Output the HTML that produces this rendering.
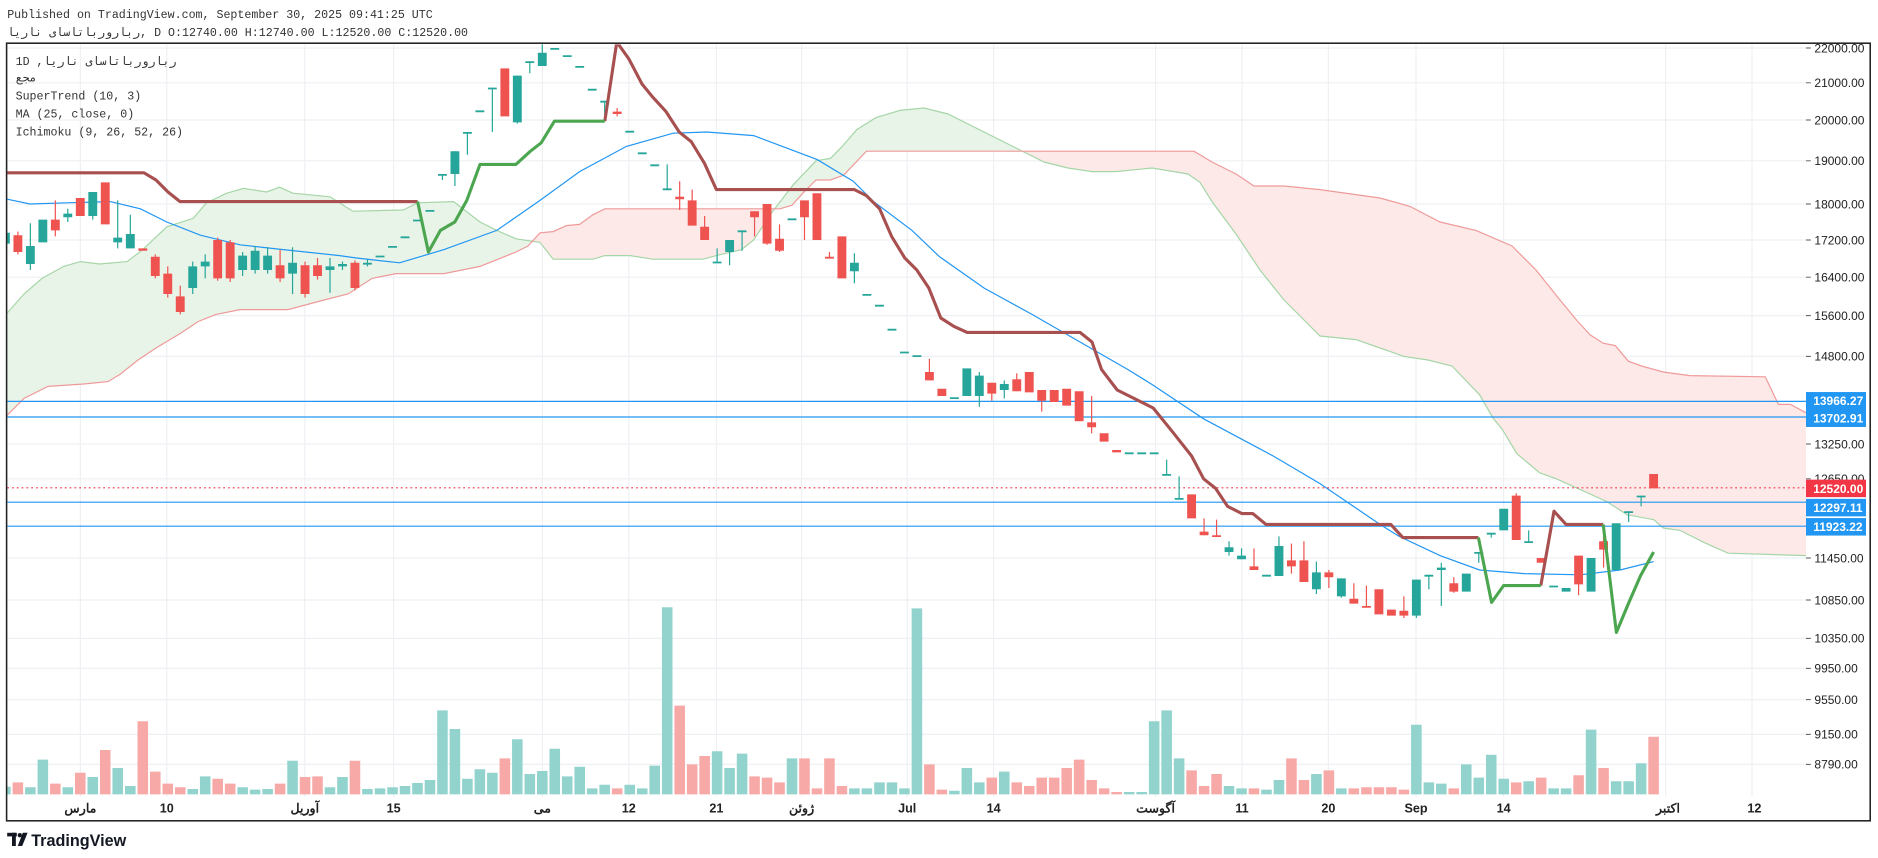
<!DOCTYPE html>
<html><head><meta charset="utf-8">
<style>
html,body{margin:0;padding:0;background:#fff;}
svg{display:block;}
.mono{font-family:"Liberation Mono","DejaVu Sans Mono","Noto Sans CJK JP",monospace;}
.sans{font-family:"Liberation Sans","Noto Sans CJK JP",sans-serif;}
</style></head>
<body>
<svg width="1878" height="858" viewBox="0 0 1565 715" preserveAspectRatio="none" xmlns="http://www.w3.org/2000/svg">
<defs>
<clipPath id="cc"><rect x="6" y="37" width="1499" height="646"/></clipPath>
<clipPath id="aboveB"><polygon points="0,0 5,347 20,332 40,322 70,320 90,318 100,312 115,300 130,290 150,278 165,268 180,262 200,258 240,258 270,250 290,245 310,232 330,228 370,228 400,222 430,210 440,205 450,194 461,193 472,188 483,187 494,179 504,174 650,174 660,171 669,161 680,150 692,150 703,146 722,126 995,126 1010,135 1030,145 1045,155 1070,155 1100,158 1150,165 1175,172 1200,185 1230,192 1260,205 1280,225 1300,250 1314,267 1325,279 1336,286 1346,288 1357,301 1368,305 1386,310 1408,313 1471,314 1482,337 1492,337 1505,344 1565,344 1565,0"/></clipPath>
<clipPath id="belowB"><polygon points="0,715 0,347 5,347 20,332 40,322 70,320 90,318 100,312 115,300 130,290 150,278 165,268 180,262 200,258 240,258 270,250 290,245 310,232 330,228 370,228 400,222 430,210 440,205 450,194 461,193 472,188 483,187 494,179 504,174 650,174 660,171 669,161 680,150 692,150 703,146 722,126 995,126 1010,135 1030,145 1045,155 1070,155 1100,158 1150,165 1175,172 1200,185 1230,192 1260,205 1280,225 1300,250 1314,267 1325,279 1336,286 1346,288 1357,301 1368,305 1386,310 1408,313 1471,314 1482,337 1492,337 1505,344 1565,344 1565,715"/></clipPath>
</defs>
<rect x="0" y="0" width="1565" height="715" fill="#fff"/>
<!-- grid -->
<path stroke="#eef0f3" stroke-width="1" fill="none" d="M6 40H1505M6 69H1505M6 100H1505M6 134H1505M6 170H1505M6 200H1505M6 231H1505M6 263H1505M6 297H1505M6 370H1505M6 399H1505M6 465H1505M6 500H1505M6 532H1505M6 557H1505M6 583H1505M6 612H1505M6 637H1505
M67 37V664M139 37V664M254 37V664M328 37V664M452 37V664M524 37V664M597 37V664M668 37V664M756 37V664M828 37V664M963 37V664M1035 37V664M1107 37V664M1180 37V664M1253 37V664M1388 37V664M1460 37V664"/>
<g clip-path="url(#cc)">
<!-- cloud -->
<g id="cl">
<polygon clip-path="url(#aboveB)" fill="#e9f4e9" points="5,262 20,245 35,232 53,222 67,218 83,220 106,218 119,208 139,189 161,182 172,169 189,161 203,157 222,160 233,156 244,161 275,164 294,176 336,175 348,169 378,168 400,185 414,192 430,199 450,202 461,216 494,216 504,213 525,213 544,216 586,216 597,213 618,208 628,200 644,176 661,154 680,134 692,132 701,123 714,108 730,98 750,92 770,90 790,95 810,105 830,115 850,125 870,135 890,140 910,143 930,143 960,140 990,145 1000,152 1010,168 1030,195 1050,225 1070,250 1090,270 1100,280 1130,283 1150,290 1170,297 1190,300 1210,305 1233,329 1244,348 1252,358 1264,378 1283,394 1297,399 1339,418 1356,429 1378,433 1386,440 1400,442 1420,452 1440,461 1505,463 1505,344 1492,337 1482,337 1471,314 1408,313 1386,310 1368,305 1357,301 1346,288 1336,286 1325,279 1314,267 1300,250 1280,225 1260,205 1230,192 1200,185 1175,172 1150,165 1100,158 1070,155 1045,155 1030,145 1010,135 995,126 722,126 703,146 692,150 680,150 669,161 660,171 650,174 504,174 494,179 483,187 472,188 461,193 450,194 440,205 430,210 400,222 370,228 330,228 310,232 290,245 270,250 240,258 200,258 180,262 165,268 150,278 130,290 115,300 100,312 90,318 70,320 40,322 20,332 5,347"/>
<polygon clip-path="url(#belowB)" fill="#fde9e8" points="5,262 20,245 35,232 53,222 67,218 83,220 106,218 119,208 139,189 161,182 172,169 189,161 203,157 222,160 233,156 244,161 275,164 294,176 336,175 348,169 378,168 400,185 414,192 430,199 450,202 461,216 494,216 504,213 525,213 544,216 586,216 597,213 618,208 628,200 644,176 661,154 680,134 692,132 701,123 714,108 730,98 750,92 770,90 790,95 810,105 830,115 850,125 870,135 890,140 910,143 930,143 960,140 990,145 1000,152 1010,168 1030,195 1050,225 1070,250 1090,270 1100,280 1130,283 1150,290 1170,297 1190,300 1210,305 1233,329 1244,348 1252,358 1264,378 1283,394 1297,399 1339,418 1356,429 1378,433 1386,440 1400,442 1420,452 1440,461 1505,463 1505,344 1492,337 1482,337 1471,314 1408,313 1386,310 1368,305 1357,301 1346,288 1336,286 1325,279 1314,267 1300,250 1280,225 1260,205 1230,192 1200,185 1175,172 1150,165 1100,158 1070,155 1045,155 1030,145 1010,135 995,126 722,126 703,146 692,150 680,150 669,161 660,171 650,174 504,174 494,179 483,187 472,188 461,193 450,194 440,205 430,210 400,222 370,228 330,228 310,232 290,245 270,250 240,258 200,258 180,262 165,268 150,278 130,290 115,300 100,312 90,318 70,320 40,322 20,332 5,347"/>
<polyline fill="none" stroke="#a5d6a7" stroke-width="1" points="5,262 20,245 35,232 53,222 67,218 83,220 106,218 119,208 139,189 161,182 172,169 189,161 203,157 222,160 233,156 244,161 275,164 294,176 336,175 348,169 378,168 400,185 414,192 430,199 450,202 461,216 494,216 504,213 525,213 544,216 586,216 597,213 618,208 628,200 644,176 661,154 680,134 692,132 701,123 714,108 730,98 750,92 770,90 790,95 810,105 830,115 850,125 870,135 890,140 910,143 930,143 960,140 990,145 1000,152 1010,168 1030,195 1050,225 1070,250 1090,270 1100,280 1130,283 1150,290 1170,297 1190,300 1210,305 1233,329 1244,348 1252,358 1264,378 1283,394 1297,399 1339,418 1356,429 1378,433 1386,440 1400,442 1420,452 1440,461 1505,463"/>
<polyline fill="none" stroke="#ef9a9a" stroke-width="1" points="5,347 20,332 40,322 70,320 90,318 100,312 115,300 130,290 150,278 165,268 180,262 200,258 240,258 270,250 290,245 310,232 330,228 370,228 400,222 430,210 440,205 450,194 461,193 472,188 483,187 494,179 504,174 650,174 660,171 669,161 680,150 692,150 703,146 722,126 995,126 1010,135 1030,145 1045,155 1070,155 1100,158 1150,165 1175,172 1200,185 1230,192 1260,205 1280,225 1300,250 1314,267 1325,279 1336,286 1346,288 1357,301 1368,305 1386,310 1408,313 1471,314 1482,337 1492,337 1505,344"/>
</g>
<!-- volume -->
<path fill="#92d3cd" d="M0.1 655.6h8.8V662h-8.8zM20.9 656h8.8V662h-8.8zM31.3 633h8.8V662h-8.8zM52.1 656h8.8V662h-8.8zM72.9 647.5h8.8V662h-8.8zM93.7 640h8.8V662h-8.8zM104.2 655h8.8V662h-8.8zM156.2 657.5h8.8V662h-8.8zM166.6 647h8.8V662h-8.8zM197.8 656h8.8V662h-8.8zM208.2 658h8.8V662h-8.8zM218.6 657.5h8.8V662h-8.8zM239.4 634h8.8V662h-8.8zM270.6 656h8.8V662h-8.8zM281 647.5h8.8V662h-8.8zM301.8 657.5h8.8V662h-8.8zM312.3 657h8.8V662h-8.8zM322.7 656h8.8V662h-8.8zM333.1 655h8.8V662h-8.8zM343.5 652.5h8.8V662h-8.8zM353.9 650h8.8V662h-8.8zM364.3 592h8.8V662h-8.8zM374.7 607.5h8.8V662h-8.8zM385.1 649h8.8V662h-8.8zM395.5 641h8.8V662h-8.8zM405.9 644h8.8V662h-8.8zM426.7 616h8.8V662h-8.8zM437.1 645h8.8V662h-8.8zM447.5 642.5h8.8V662h-8.8zM457.9 624h8.8V662h-8.8zM468.3 647h8.8V662h-8.8zM478.7 639h8.8V662h-8.8zM489.1 657h8.8V662h-8.8zM499.5 654h8.8V662h-8.8zM520.4 654h8.8V662h-8.8zM530.8 657h8.8V662h-8.8zM541.2 638h8.8V662h-8.8zM551.6 506h8.8V662h-8.8zM593.2 626h8.8V662h-8.8zM603.6 640h8.8V662h-8.8zM614 628h8.8V662h-8.8zM655.6 632h8.8V662h-8.8zM707.6 657h8.8V662h-8.8zM718 657h8.8V662h-8.8zM728.5 652h8.8V662h-8.8zM738.9 652h8.8V662h-8.8zM749.3 657h8.8V662h-8.8zM759.7 507h8.8V662h-8.8zM790.9 659h8.8V662h-8.8zM801.3 640h8.8V662h-8.8zM811.7 652h8.8V662h-8.8zM832.5 643h8.8V662h-8.8zM936.6 660h8.8V662h-8.8zM947 660h8.8V662h-8.8zM957.4 601h8.8V662h-8.8zM967.8 592h8.8V662h-8.8zM978.2 632h8.8V662h-8.8zM1019.8 655h8.8V662h-8.8zM1030.2 657h8.8V662h-8.8zM1051 658h8.8V662h-8.8zM1061.4 650h8.8V662h-8.8zM1092.6 645h8.8V662h-8.8zM1113.4 657h8.8V662h-8.8zM1175.9 604h8.8V662h-8.8zM1186.3 652h8.8V662h-8.8zM1196.7 653h8.8V662h-8.8zM1217.5 637h8.8V662h-8.8zM1227.9 648h8.8V662h-8.8zM1238.3 629h8.8V662h-8.8zM1248.7 649h8.8V662h-8.8zM1269.5 651h8.8V662h-8.8zM1290.3 657h8.8V662h-8.8zM1300.7 657h8.8V662h-8.8zM1321.5 608h8.8V662h-8.8zM1342.4 651h8.8V662h-8.8zM1352.8 651h8.8V662h-8.8zM1363.2 636h8.8V662h-8.8z"/>
<path fill="#f7a9a7" d="M10.5 652h8.8V662h-8.8zM41.7 653h8.8V662h-8.8zM62.5 644h8.8V662h-8.8zM83.3 625h8.8V662h-8.8zM114.6 601h8.8V662h-8.8zM125 643h8.8V662h-8.8zM135.4 653h8.8V662h-8.8zM145.8 656h8.8V662h-8.8zM177 649h8.8V662h-8.8zM187.4 653h8.8V662h-8.8zM229 653h8.8V662h-8.8zM249.8 647.5h8.8V662h-8.8zM260.2 647h8.8V662h-8.8zM291.4 634h8.8V662h-8.8zM416.3 632h8.8V662h-8.8zM509.9 657h8.8V662h-8.8zM562 588h8.8V662h-8.8zM572.4 637h8.8V662h-8.8zM582.8 630h8.8V662h-8.8zM624.4 647h8.8V662h-8.8zM634.8 648h8.8V662h-8.8zM645.2 652h8.8V662h-8.8zM666 632h8.8V662h-8.8zM676.4 657h8.8V662h-8.8zM686.8 632h8.8V662h-8.8zM697.2 655h8.8V662h-8.8zM770.1 637h8.8V662h-8.8zM780.5 658h8.8V662h-8.8zM822.1 648h8.8V662h-8.8zM842.9 652h8.8V662h-8.8zM853.3 655h8.8V662h-8.8zM863.7 648h8.8V662h-8.8zM874.1 648h8.8V662h-8.8zM884.5 640h8.8V662h-8.8zM894.9 633h8.8V662h-8.8zM905.3 650h8.8V662h-8.8zM915.7 657h8.8V662h-8.8zM926.1 660h8.8V662h-8.8zM988.6 642h8.8V662h-8.8zM999 655h8.8V662h-8.8zM1009.4 645h8.8V662h-8.8zM1040.6 657h8.8V662h-8.8zM1071.8 632h8.8V662h-8.8zM1082.2 650h8.8V662h-8.8zM1103 642h8.8V662h-8.8zM1123.8 657h8.8V662h-8.8zM1134.3 656h8.8V662h-8.8zM1144.7 656h8.8V662h-8.8zM1155.1 656h8.8V662h-8.8zM1165.5 658h8.8V662h-8.8zM1207.1 657h8.8V662h-8.8zM1259.1 652h8.8V662h-8.8zM1279.9 648h8.8V662h-8.8zM1311.1 646h8.8V662h-8.8zM1331.9 640h8.8V662h-8.8zM1373.6 614h8.8V662h-8.8z"/>
<!-- MA -->
<polyline fill="none" stroke="#2196f3" stroke-width="1" points="6,166 25,170 56,169 92,168 117,174 139,185 167,196 200,204 236,208 283,213 297,215 333,219 370,208 414,192 450,167 483,143 522,122 561,111 589,110 628,113 681,133 711,151 728,168 760,192 783,214 820,240 860,262 900,285 940,308 961,321 1003,349 1061,380 1100,403 1150,437 1166,447 1200,463 1233,475 1270,478 1317,479 1350,475 1378,468"/>
<!-- levels -->
<path stroke="#2196f3" stroke-width="1" d="M6 334.5H1505M6 347.5H1505M6 418.5H1505M6 438.5H1505"/>
<path stroke="#f23645" stroke-width="1" stroke-dasharray="1.5,2.5" d="M6 406.5H1505"/>
<!-- wicks -->
<path stroke="#26a69a" stroke-width="1" fill="none" d="M4.5 192V205M25.3 186V225M56.5 174V185M77.3 160V183M98.1 167V207M108.6 179V207M160.6 218V245M171 212V232M202.2 210V230M212.6 205V228M223 206V228M243.8 206V245M275 215V244M285.4 218V225M306.2 216V222M368.7 145V150M379.1 126V155M389.5 110V129M410.3 73V110M431.1 63V103M441.5 51V61M451.9 36V55M503.9 84V96M556 137V158M597.6 207V219M608 200V221M618.4 192V209M712 211V236M816.1 310V339M836.9 317V332M972.2 383V396M982.6 397V416M1024.2 451V463M1034.6 457V466M1065.8 447V480M1097 468V495M1117.8 482V498M1180.3 483V515M1190.7 479V491M1201.1 469V505M1232.3 460V469M1242.7 444V448M1273.9 442V452M1357.2 426V435M1367.6 413V422"/>
<path stroke="#ef5350" stroke-width="1" fill="none" d="M14.9 193V212M46.1 167V197M129.4 212V232M139.8 222V248M150.2 238V262M181.4 198V234M191.8 200V235M233.4 208V235M254.2 218V248M264.6 215V233M295.8 217V242M514.3 90V97M566.4 151V175M576.8 158V188M587.2 180V200M628.8 176V197M639.2 170V204M649.6 187V210M670.4 167V200M691.2 210V215M774.5 299V317M826.5 319V334M847.3 311V326M868.1 325V343M909.7 330V361M1003.4 432V446M1013.8 433V447M1045 457V475M1076.2 453V478M1086.6 451V485M1107.4 475V490M1128.2 486V503M1138.7 488V506M1169.9 497V515M1211.5 481V494M1263.5 411V450M1315.5 463V496M1336.3 444V473"/>
<!-- bodies -->
<path fill="#26a69a" d="M0.8 194h7.4v9h-7.4zM21.6 205h7.4v15h-7.4zM32 183h7.4v19h-7.4zM52.8 178h7.4v3h-7.4zM73.6 160h7.4v20h-7.4zM94.4 198h7.4v4h-7.4zM104.9 195h7.4v12h-7.4zM156.9 222h7.4v18h-7.4zM167.3 218h7.4v4h-7.4zM198.5 213h7.4v12h-7.4zM208.9 209h7.4v16h-7.4zM219.3 213h7.4v12h-7.4zM240.1 219h7.4v9h-7.4zM271.3 222h7.4v3h-7.4zM281.7 220h7.4v2h-7.4zM302.5 219h7.4v1.5h-7.4zM313 213h7.4v1.5h-7.4zM323.4 205h7.4v1.5h-7.4zM333.8 197h7.4v1.5h-7.4zM344.2 183h7.4v1.5h-7.4zM354.6 175h7.4v1.5h-7.4zM365 145h7.4v1.5h-7.4zM375.4 126h7.4v19h-7.4zM385.8 110h7.4v1.5h-7.4zM396.2 92h7.4v1.5h-7.4zM406.6 73h7.4v1.5h-7.4zM427.4 63h7.4v39h-7.4zM437.8 51h7.4v1.5h-7.4zM448.2 44h7.4v11h-7.4zM458.6 40h7.4v1.5h-7.4zM469 46h7.4v1.5h-7.4zM479.4 55h7.4v1.5h-7.4zM489.8 74h7.4v1.5h-7.4zM500.2 84h7.4v1.5h-7.4zM521.1 109h7.4v1.5h-7.4zM531.5 127h7.4v1.5h-7.4zM541.9 137h7.4v1.5h-7.4zM552.3 157h7.4v1.5h-7.4zM593.9 218h7.4v1.5h-7.4zM604.3 200h7.4v10h-7.4zM614.7 192h7.4v1.5h-7.4zM656.3 182h7.4v1.5h-7.4zM708.3 219h7.4v7h-7.4zM718.7 245h7.4v1.5h-7.4zM729.2 254h7.4v1.5h-7.4zM739.6 274h7.4v1.5h-7.4zM750 293h7.4v1.5h-7.4zM760.4 296h7.4v1.5h-7.4zM791.6 331h7.4v1.5h-7.4zM802 307h7.4v23h-7.4zM812.4 313h7.4v17h-7.4zM833.2 320h7.4v5h-7.4zM937.3 377h7.4v1.5h-7.4zM947.7 377h7.4v1.5h-7.4zM958.1 377h7.4v1.5h-7.4zM968.5 395h7.4v1.5h-7.4zM978.9 415h7.4v1.5h-7.4zM1020.5 456h7.4v4h-7.4zM1030.9 463h7.4v3h-7.4zM1051.7 479h7.4v1.5h-7.4zM1062.1 455h7.4v25h-7.4zM1093.3 477h7.4v14h-7.4zM1114.1 482h7.4v15h-7.4zM1176.6 483h7.4v30h-7.4zM1187 479h7.4v1.5h-7.4zM1197.4 473h7.4v2h-7.4zM1218.2 478h7.4v15h-7.4zM1228.6 460h7.4v1.5h-7.4zM1239 444h7.4v1.5h-7.4zM1249.4 424h7.4v18h-7.4zM1270.2 451h7.4v1.5h-7.4zM1291 488h7.4v1.5h-7.4zM1301.4 490h7.4v3h-7.4zM1322.2 465h7.4v28h-7.4zM1343.1 436h7.4v39h-7.4zM1353.5 426h7.4v1.5h-7.4zM1363.9 413h7.4v1.5h-7.4z"/>
<path fill="#ef5350" d="M11.2 196h7.4v14h-7.4zM42.4 183h7.4v9h-7.4zM63.2 165h7.4v15h-7.4zM84 152h7.4v35h-7.4zM115.3 207h7.4v2h-7.4zM125.7 214h7.4v16h-7.4zM136.1 228h7.4v17h-7.4zM146.5 247h7.4v13h-7.4zM177.7 200h7.4v32h-7.4zM188.1 202h7.4v30h-7.4zM229.7 221h7.4v11h-7.4zM250.5 221h7.4v24h-7.4zM260.9 221h7.4v9h-7.4zM292.1 219h7.4v21h-7.4zM417 57h7.4v40h-7.4zM510.6 93h7.4v2h-7.4zM562.7 164h7.4v2h-7.4zM573.1 167h7.4v21h-7.4zM583.5 189h7.4v11h-7.4zM625.1 176h7.4v5h-7.4zM635.5 170h7.4v33h-7.4zM645.9 199h7.4v10h-7.4zM666.7 167h7.4v14h-7.4zM677.1 161h7.4v39h-7.4zM687.5 214h7.4v1.5h-7.4zM697.9 197h7.4v35h-7.4zM770.8 310h7.4v7h-7.4zM781.2 324h7.4v6h-7.4zM822.8 319h7.4v9h-7.4zM843.6 316h7.4v10h-7.4zM854 310h7.4v17h-7.4zM864.4 325h7.4v9h-7.4zM874.8 325h7.4v10h-7.4zM885.2 324h7.4v14h-7.4zM895.6 326h7.4v25h-7.4zM906 352h7.4v4h-7.4zM916.4 361h7.4v7h-7.4zM926.8 375h7.4v2h-7.4zM989.3 412h7.4v20h-7.4zM999.7 443h7.4v3h-7.4zM1010.1 446h7.4v1.5h-7.4zM1041.3 472h7.4v3h-7.4zM1072.5 467h7.4v5h-7.4zM1082.9 467h7.4v18h-7.4zM1103.7 477h7.4v4h-7.4zM1124.5 499h7.4v4h-7.4zM1135 505h7.4v1.5h-7.4zM1145.4 491h7.4v21h-7.4zM1155.8 508h7.4v5h-7.4zM1166.2 509h7.4v4h-7.4zM1207.8 486h7.4v7h-7.4zM1259.8 413h7.4v37h-7.4zM1280.6 465h7.4v4h-7.4zM1311.8 463h7.4v24h-7.4zM1332.6 451h7.4v7h-7.4zM1374.3 395h7.4v12h-7.4z"/>
<!-- supertrend -->
<g fill="none" stroke-width="2.6" stroke-linejoin="round">
<polyline stroke="#a85050" points="5,144 120,144 130,150 140,160 150,168 348,168"/>
<polyline stroke="#a85050" points="504,101 514,35 524,49 535,70 544,81 555,93 566,110 576,118 587,136 597,158 712,158 722,163 733,174 743,197 754,215 764,225 774,240 784,265 795,272 806,277 900,277 910,285 918,308 931,325 961,340 978,361 993,380 1003,399 1013,407 1023,422 1035,428 1044,428 1055,437 1159,437 1169,448 1232,448"/>
<polyline stroke="#a85050" points="1284,488 1295,426 1305,437 1336,437"/>
<polyline stroke="#4ca650" points="348,168 357,210 367,192 379,185 389,167 400,137 430,137 442,126 451,119 462,101 504,101"/>
<polyline stroke="#4ca650" points="1232,448 1243,502 1253,488 1284,488"/>
<polyline stroke="#4ca650" points="1336,437 1347,527 1357,503 1367,480 1378,460"/>
</g>
</g>
<!-- price axis -->
<path stroke="#555" stroke-width="0.8" d="M1505 40h4M1505 69h4M1505 100h4M1505 134h4M1505 170h4M1505 200h4M1505 231h4M1505 263h4M1505 297h4M1505 370h4M1505 399h4M1505 465h4M1505 500h4M1505 532h4M1505 557h4M1505 583h4M1505 612h4M1505 637h4"/>
<g class="sans" font-size="10" fill="#222">
<text x="1512" y="43.6">22000.00</text><text x="1512" y="72.6">21000.00</text><text x="1512" y="103.6">20000.00</text><text x="1512" y="137.6">19000.00</text><text x="1512" y="173.6">18000.00</text><text x="1512" y="203.6">17200.00</text><text x="1512" y="234.6">16400.00</text><text x="1512" y="266.6">15600.00</text><text x="1512" y="300.6">14800.00</text><text x="1512" y="373.6">13250.00</text><text x="1512" y="402.6">12650.00</text><text x="1512" y="468.6">11450.00</text><text x="1512" y="503.6">10850.00</text><text x="1512" y="535.6">10350.00</text><text x="1512" y="560.6">9950.00</text><text x="1512" y="586.6">9550.00</text><text x="1512" y="615.6">9150.00</text><text x="1512" y="640.6">8790.00</text>
</g>
<rect x="1505" y="326.7" width="50" height="14.6" fill="#2196f3"/>
<rect x="1505" y="341.2" width="50" height="14.6" fill="#2196f3"/>
<rect x="1505" y="415.7" width="50" height="14.6" fill="#2196f3"/>
<rect x="1505" y="431.7" width="50" height="14.6" fill="#2196f3"/>
<rect x="1505" y="399.7" width="50" height="14.6" fill="#f23645"/>
<g class="sans" font-size="10" fill="#fff" font-weight="bold">
<text x="1511" y="337.7">13966.27</text><text x="1511" y="352.2">13702.91</text><text x="1511" y="410.7">12520.00</text><text x="1511" y="426.7">12297.11</text><text x="1511" y="442.7">11923.22</text>
</g>
<!-- time axis -->
<g class="sans" font-size="10.5" fill="#222" font-weight="bold" text-anchor="middle">
<text x="67" y="677">مارس</text><text x="139" y="677">10</text><text x="254" y="677">آوریل</text><text x="328" y="677">15</text><text x="452" y="677">می</text><text x="524" y="677">12</text><text x="597" y="677">21</text><text x="668" y="677">ژوئن</text><text x="756" y="677">Jul</text><text x="828" y="677">14</text><text x="963" y="677">آگوست</text><text x="1035" y="677">11</text><text x="1107" y="677">20</text><text x="1180" y="677">Sep</text><text x="1253" y="677">14</text><text x="1390" y="677">اکتبر</text><text x="1462" y="677">12</text>
</g>
<!-- header -->
<text x="6" y="15" class="mono" font-size="9.7" fill="#333">Published on TradingView.com, September 30, 2025 09:41:25 UTC</text>
<text x="6" y="30" class="mono" font-size="9.7" fill="#333">ربارورباتاسای ناریا, D O:12740.00 H:12740.00 L:12520.00 C:12520.00</text>
<text x="13" y="54" class="mono" font-size="9.7" fill="#333">1D ,ربارورباتاسای ناریا</text>
<text x="13" y="68" class="mono" font-size="9.7" fill="#333">مجع</text>
<text x="13" y="83" class="mono" font-size="9.7" fill="#333">SuperTrend (10, 3)</text>
<text x="13" y="98" class="mono" font-size="9.7" fill="#333">MA (25, close, 0)</text>
<text x="13" y="113" class="mono" font-size="9.7" fill="#333">Ichimoku (9, 26, 52, 26)</text>
<rect x="5.5" y="36" width="1553" height="648" fill="none" stroke="#222" stroke-width="1.3"/>
<g fill="#131722">
<rect x="6" y="694" width="8" height="3"/>
<rect x="10" y="694" width="3.2" height="11"/>
<circle cx="16.5" cy="696" r="1.8"/>
<polygon points="19,694 23,694 18.5,705 14.8,705"/>
</g>
<text x="26" y="705" class="sans" font-size="13.5" font-weight="bold" fill="#131722">TradingView</text>
</svg>
</body></html>
